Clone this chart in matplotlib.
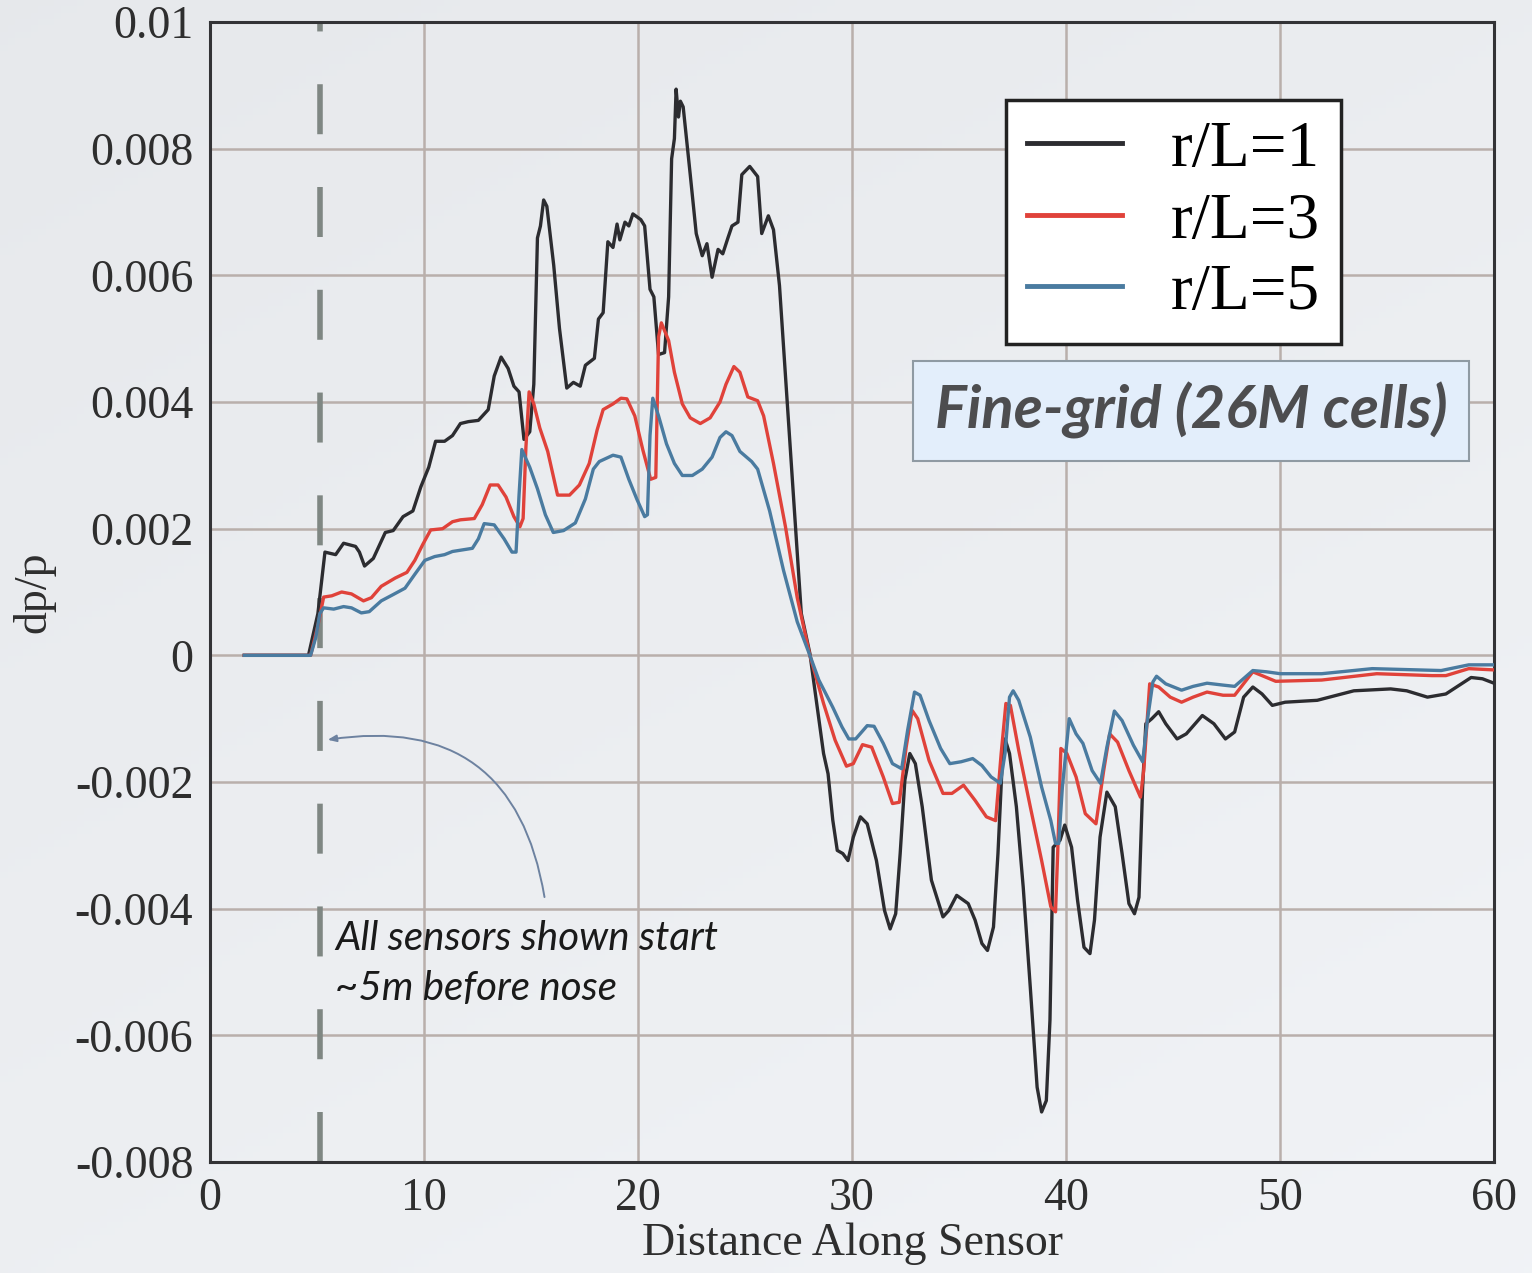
import numpy as np
import matplotlib
matplotlib.use("Agg")
import matplotlib.pyplot as plt

# sensor signatures, distance [m] vs dp/p
x_r1 = [1.6, 4.6, 5.04, 5.37, 5.87, 6.24, 6.8, 6.98, 7.22, 7.63, 8.19, 8.56, 9.02, 9.48, 9.85,
        10.22, 10.54, 10.96, 11.33, 11.7, 12.07, 12.54, 13.0, 13.28, 13.6, 13.93, 14.2, 14.44,
        14.67, 14.94, 15.13, 15.3, 15.44, 15.59, 15.74, 16.06, 16.33, 16.67, 16.98, 17.3, 17.54,
        17.96, 18.15, 18.37, 18.59, 18.83, 19.02, 19.15, 19.39, 19.57, 19.76, 20.13, 20.31, 20.56,
        20.74, 20.96, 21.24, 21.43, 21.57, 21.7, 21.78, 21.89, 21.98, 22.11, 22.44, 22.72, 23.0,
        23.22, 23.46, 23.74, 23.96, 24.2, 24.39, 24.67, 24.85, 25.22, 25.59, 25.78, 26.09, 26.33,
        26.61, 26.89, 27.26, 27.63, 28.03, 28.35, 28.67, 28.88, 29.1, 29.31, 29.57, 29.81, 30.06,
        30.39, 30.71, 31.14, 31.52, 31.78, 32.04, 32.25, 32.47, 32.7, 32.96, 33.28, 33.71, 34.25,
        34.52, 34.89, 35.43, 35.75, 36.07, 36.33, 36.61, 36.82, 37.04, 37.15, 37.36, 37.68, 38.0,
        38.33, 38.65, 38.86, 39.08, 39.25, 39.4, 39.72, 39.94, 40.26, 40.54, 40.84, 41.12, 41.33,
        41.59, 41.91, 42.3, 42.62, 42.94, 43.2, 43.41, 43.58, 43.73, 44.01, 44.33, 44.66, 45.19,
        45.62, 46.37, 46.91, 47.45, 47.88, 48.3, 48.73, 49.16, 49.64, 50.24, 51.74, 53.45, 55.17,
        55.92, 56.89, 57.75, 58.93, 59.46, 60.0]
dp_r1 = [0.0, 0.0, 0.66, 1.63, 1.59, 1.77, 1.72, 1.63, 1.41, 1.53, 1.94, 1.97, 2.19, 2.28, 2.66,
         2.97, 3.38, 3.38, 3.47, 3.66, 3.69, 3.71, 3.88, 4.41, 4.71, 4.53, 4.25, 4.16,
         3.41, 3.53, 4.28, 6.59, 6.78, 7.19, 7.09, 6.16, 5.16, 4.22, 4.31, 4.25, 4.58,
         4.69, 5.31, 5.41, 6.53, 6.44, 6.81, 6.56, 6.84, 6.78, 6.97, 6.88, 6.78, 5.78,
         5.66, 4.75, 4.78, 5.66, 7.84, 8.16, 8.94, 8.5, 8.75, 8.66, 7.59, 6.66, 6.31,
         6.5, 5.97, 6.41, 6.34, 6.59, 6.78, 6.84, 7.59, 7.72, 7.56, 6.66, 6.94, 6.72,
         5.84, 4.41, 2.53, 0.66, 0.03, -0.76, -1.55, -1.87, -2.6, -3.08, -3.13, -3.24, -2.87,
         -2.55, -2.66, -3.24, -4.03, -4.32, -4.08, -3.13, -1.97, -1.55, -1.71, -2.39, -3.55, -4.13,
         -4.03, -3.79, -3.92, -4.18, -4.55, -4.66, -4.29, -3.13, -1.55, -1.32, -1.55, -2.39, -3.66,
         -5.24, -6.82, -7.21, -7.03, -5.76, -3.03, -2.92, -2.68, -3.03, -3.87, -4.61, -4.71, -4.18,
         -2.87, -2.16, -2.39, -3.13, -3.92, -4.08, -3.82, -2.08, -1.08, -1.0, -0.89, -1.08, -1.32,
         -1.24, -0.95, -1.08, -1.32, -1.21, -0.66, -0.5, -0.61, -0.79, -0.74, -0.71, -0.56, -0.53,
         -0.56, -0.66, -0.61, -0.35, -0.37, -0.44]

x_r3 = [1.6, 4.7, 5.04, 5.31, 5.69, 6.15, 6.61, 7.17, 7.54, 8.0, 8.65, 9.2, 9.57, 9.94, 10.31,
        10.87, 11.33, 11.7, 12.35, 12.72, 13.09, 13.46, 13.83, 14.2, 14.48, 14.63, 14.76, 14.91,
        15.13, 15.41, 15.78, 16.24, 16.8, 17.26, 17.72, 18.09, 18.37, 18.83, 19.2, 19.48, 19.85,
        20.22, 20.59, 20.83, 20.96, 21.09, 21.43, 21.7, 22.07, 22.44, 22.91, 23.37, 23.83, 24.11,
        24.48, 24.76, 25.13, 25.59, 25.87, 26.33, 26.89, 27.44, 28.03, 28.67, 29.21, 29.74, 30.06,
        30.49, 30.92, 31.46, 31.89, 32.21, 32.53, 32.81, 33.07, 33.6, 34.25, 34.67, 35.21, 35.75,
        36.28, 36.71, 36.97, 37.19, 37.4, 37.79, 38.33, 38.86, 39.29, 39.51, 39.61, 39.76, 40.04,
        40.47, 40.9, 41.4, 41.76, 42.04, 42.41, 42.94, 43.48, 43.63, 43.91, 44.33, 44.87, 45.4,
        45.94, 46.59, 47.34, 47.88, 48.73, 49.16, 49.8, 51.95, 54.52, 57.1, 57.75, 58.82, 60.0]
dp_r3 = [0.0, 0.0, 0.47, 0.92, 0.94, 1.0, 0.97, 0.86, 0.91, 1.09, 1.22, 1.31, 1.5, 1.75, 1.98,
         2.0, 2.11, 2.14, 2.16, 2.38, 2.69, 2.69, 2.5, 2.19, 2.03, 2.16, 3.28, 4.16,
         3.97, 3.59, 3.22, 2.53, 2.53, 2.69, 3.03, 3.56, 3.88, 3.97, 4.06, 4.05, 3.78,
         3.25, 2.78, 2.81, 5.03, 5.25, 4.97, 4.47, 3.97, 3.75, 3.66, 3.75, 4.0, 4.28,
         4.56, 4.47, 4.08, 4.02, 3.78, 3.03, 2.03, 0.91, 0.0, -0.76, -1.34, -1.75, -1.71,
         -1.41, -1.45, -1.92, -2.34, -2.32, -1.45, -0.87, -1.0, -1.66, -2.18, -2.18, -2.05, -2.29,
         -2.55, -2.61, -1.55, -0.76, -0.79, -1.5, -2.39, -3.24, -3.97, -4.05, -3.13, -1.47, -1.55,
         -1.92, -2.5, -2.66, -1.82, -1.24, -1.37, -1.82, -2.24, -1.82, -0.45, -0.5, -0.66, -0.74,
         -0.66, -0.58, -0.63, -0.63, -0.26, -0.32, -0.41, -0.39, -0.29, -0.32, -0.32, -0.21, -0.23]

x_r5 = [1.6, 4.7, 4.94, 5.13, 5.31, 5.78, 6.24, 6.61, 7.07, 7.44, 8.0, 8.56, 9.11, 9.57, 10.04,
        10.5, 10.96, 11.33, 11.89, 12.26, 12.54, 12.81, 13.28, 13.74, 14.11, 14.3, 14.44, 14.57,
        14.94, 15.3, 15.67, 16.04, 16.52, 17.07, 17.54, 17.91, 18.19, 18.83, 19.2, 19.57, 19.94,
        20.31, 20.44, 20.56, 20.69, 20.96, 21.33, 21.7, 22.07, 22.54, 23.0, 23.46, 23.83, 24.11,
        24.39, 24.76, 25.31, 25.59, 26.15, 26.8, 27.44, 28.03, 28.45, 29.1, 29.53, 29.85, 30.17,
        30.71, 31.03, 31.46, 31.89, 32.32, 32.6, 32.92, 33.18, 33.6, 34.14, 34.57, 35.1, 35.64,
        36.07, 36.5, 36.93, 37.15, 37.36, 37.53, 37.79, 38.33, 38.86, 39.29, 39.51, 39.66, 39.83,
        40.15, 40.47, 40.79, 41.22, 41.61, 41.91, 42.26, 42.62, 43.15, 43.58, 43.8, 44.06, 44.23,
        44.66, 45.4, 45.94, 46.59, 47.34, 47.88, 48.73, 49.37, 50.01, 51.95, 54.31, 57.53, 58.82,
        60.0]
dp_r5 = [0.0, 0.0, 0.28, 0.66, 0.75, 0.73, 0.77, 0.75, 0.67, 0.69, 0.86, 0.96, 1.06, 1.28, 1.5,
         1.56, 1.59, 1.64, 1.67, 1.69, 1.84, 2.08, 2.06, 1.84, 1.63, 1.63, 2.53, 3.25,
         2.97, 2.63, 2.22, 1.94, 1.97, 2.09, 2.47, 2.94, 3.06, 3.16, 3.13, 2.78, 2.47,
         2.19, 2.22, 3.47, 4.06, 3.78, 3.34, 3.03, 2.84, 2.84, 2.94, 3.13, 3.44, 3.53,
         3.47, 3.22, 3.06, 2.94, 2.28, 1.34, 0.53, 0.0, -0.39, -0.82, -1.13, -1.32, -1.32,
         -1.11, -1.12, -1.39, -1.71, -1.79, -1.18, -0.58, -0.63, -1.03, -1.47, -1.71, -1.68, -1.63,
         -1.74, -1.92, -2.02, -1.55, -0.66, -0.56, -0.71, -1.29, -2.08, -2.61, -2.97, -2.97, -2.08,
         -1.0, -1.24, -1.39, -1.82, -2.02, -1.45, -0.88, -1.03, -1.42, -1.68, -1.03, -0.42, -0.33,
         -0.45, -0.55, -0.49, -0.44, -0.47, -0.49, -0.24, -0.26, -0.29, -0.29, -0.21, -0.24, -0.15,
         -0.15]

labels = ["r/L=1", "r/L=3", "r/L=5"]
colors = ["#2c2c30", "#e0423a", "#4a7ba0"]

x_ticks = [0, 10, 20, 30, 40, 50, 60]
y_ticks = [0.01, 0.008, 0.006, 0.004, 0.002, 0, -0.002, -0.004, -0.006, -0.008]
y_tick_labels = ["0.01", "0.008", "0.006", "0.004", "0.002", "0",
                 "-0.002", "-0.004", "-0.006", "-0.008"]
nose_offset = 5.14

serif = "Liberation Serif"
fig = plt.figure(figsize=(15.32, 12.73), dpi=100)

# soft slide-style background
bg = fig.add_axes([0, 0, 1, 1], zorder=-10)
yy, xx = np.mgrid[0:1:200j, 0:1:200j]
shade = 0.905 + 0.04 * (0.6 * yy + 0.4 * xx)
bg.imshow(np.dstack([shade, shade + 0.008, shade + 0.02]).clip(0, 1), aspect="auto",
          extent=[0, 1, 0, 1], origin="upper")
bg.axis("off")

ax = fig.add_axes([0.1371, 0.0872, 0.8381, 0.8955])
ax.set_facecolor("none")

series = [(x_r1, dp_r1), (x_r3, dp_r3), (x_r5, dp_r5)]
for (xs, ys), lab, c in zip(series, labels, colors):
    ax.plot(xs, np.array(ys) * 1e-3, color=c, lw=2.4, label=lab, zorder=3,
            solid_joinstyle="round")

ax.axvline(nose_offset, color="#7f8783", lw=4, dashes=(9, 9.5), zorder=2)

ax.set_xlim(0, 60)
ax.set_ylim(-0.008, 0.01)
ax.set_xticks(x_ticks)
ax.set_yticks(y_ticks)
ax.set_yticklabels(y_tick_labels)
ax.grid(True, color="#b9afab", lw=1.8, zorder=0)
ax.tick_params(length=0, labelsize=33, labelcolor="#2e2e2e")
ax.tick_params(axis="y", pad=12)
ax.tick_params(axis="x", pad=11)
for lbl in ax.get_xticklabels() + ax.get_yticklabels():
    lbl.set_fontfamily(serif)
for sp in ax.spines.values():
    sp.set_color("#333336")
    sp.set_linewidth(2.2)

ax.set_xlabel("Distance Along Sensor", fontsize=33, family=serif, color="#2e2e2e", labelpad=2)
ax.set_ylabel("dp/p", fontsize=33, family=serif, color="#2e2e2e", labelpad=14)

leg = ax.legend(loc="upper left", bbox_to_anchor=(0.62, 0.932), prop={"family": serif, "size": 47},
                frameon=True, fancybox=False, handlelength=1.45, handletextpad=0.75,
                labelspacing=0.18, borderpad=0.32, borderaxespad=0)
leg.get_frame().set_edgecolor("#222222")
leg.get_frame().set_linewidth(2.5)
leg.get_frame().set_facecolor("white")
leg.get_frame().set_alpha(1)
for h in leg.get_lines():
    h.set_linewidth(3.5)

ax.text(0.764, 0.659, "Fine-grid (26M cells)", transform=ax.transAxes, ha="center", va="center",
        family="Lato", style="italic", weight="bold", fontsize=43, color="#4d4d4f", zorder=5,
        bbox=dict(boxstyle="square,pad=0.36", facecolor="#e3eefb", edgecolor="#8f9aa3", lw=1.5))

ax.text(5.84, -0.00418, "All sensors shown start\n~5m before nose", family="Lato", style="italic",
        weight="normal", fontsize=29, color="#1a1a1a", va="top", ha="left", linespacing=1.42,
        zorder=5)
ax.annotate("", xy=(5.37, -0.00134), xytext=(15.65, -0.00386),
            arrowprops=dict(arrowstyle="-|>,head_length=0.5,head_width=0.2", color="#6d82a0",
                            lw=1.4, connectionstyle="arc3,rad=0.5"))

fig.savefig("out.png", dpi=100, facecolor=fig.get_facecolor())
